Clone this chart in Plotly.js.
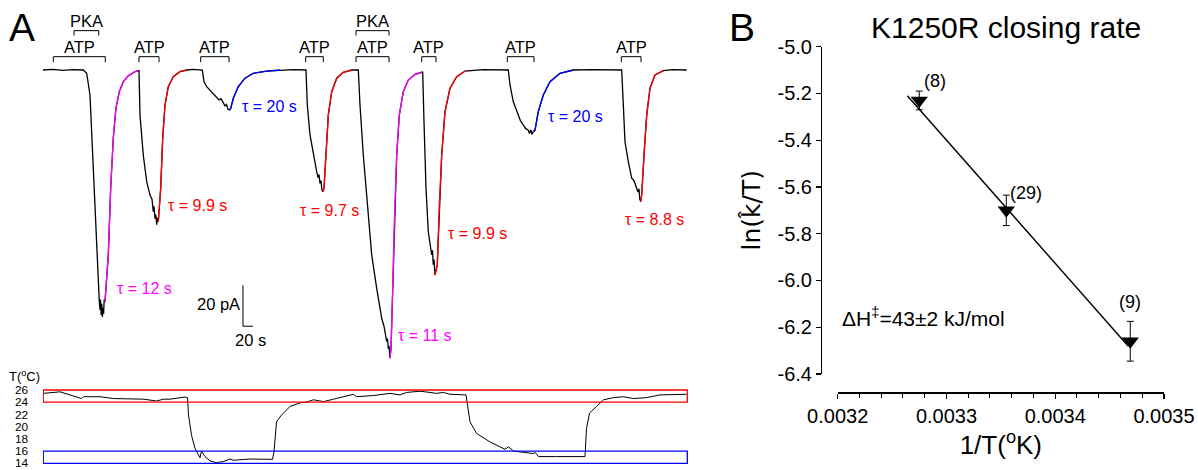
<!DOCTYPE html>
<html>
<head>
<meta charset="utf-8">
<script src="https://cdn.plot.ly/plotly-3.0.1.min.js"></script>
<style>html,body{margin:0;padding:0;background:#fff;}#chart{width:1198px;height:470px;}</style>
</head>
<body>
<div id="chart"></div>
<script>
// ---------- Panel A: current recording (time in s, current in pA) ----------
const traceT = [0,20,40,60,80.6,87.4,94,100.6,107.4,112.6,114,115,116.4,117.6,118.8,120,121.2,122.4,124,130.6,135.4,140.6,146,152.6,160.6,170.6,184,190.6,
192,194,200.6,207.4,214,218,220.6,222,224,225.5,227.4,229,230.6,235.4,239.4,244,250.6,260.6,274,287.4,300,318.6,
322,327.4,337.4,347.4,352,356,360.6,364,367,370,372.6,375.4,380.6,390.6,404,420.6,447.4,474,500,526,
528.6,534,540.6,547.4,550,552,554,556,557.5,559.4,562,566,570.6,577.4,587.4,600.6,617.4,630.6,
634,640.6,648.6,657.4,667.4,677.4,682,684,687.4,689,690.5,692,694,696,699.4,702.6,707.4,712.6,720.6,730.6,744,757.4,
759.4,762,766,770.6,774,777.4,779,780.5,782,784,788.6,792.6,797.4,804,814,827.4,844,880,930.6,
934,940.6,950.6,955,960.6,965,970.6,973,976,978,980.6,984,990.6,1000.6,1014,1034,1060.6,1100,1157.4,
1160.6,1164,1170.6,1177.4,1182,1187.4,1190,1192,1193.5,1195.4,1197.4,1202,1207.4,1214,1224,1240.6,1260,1287.4];
const traceI = [0,0.3,-0.2,0.2,0,-1.6,-12.2,-49.6,-90.2,-113,-117,-112,-119.5,-114,-120.5,-116,-119,-112,-113,-90.2,-57.6,-33.2,-18.5,-10.6,-5.7,-2.8,-0.8,-0.3,
-0.3,-22,-41.5,-54.5,-61,-63,-69.1,-66.5,-72.5,-70.5,-75.5,-72,-74,-57.7,-33.3,-17.1,-8.1,-3.3,-0.8,0,0.3,0,
-5.7,-8.1,-10.6,-13,-14.6,-14,-16.2,-17.5,-16.8,-19.2,-19.5,-18.7,-13.8,-8.1,-4,-1.6,-0.5,0,0.2,0,
-17.1,-31.7,-41.5,-49.6,-52.5,-51,-55.3,-54,-58,-59.4,-57.7,-41.5,-22,-10.6,-4,-1.1,0,0,
-17.1,-41.5,-65.9,-90.2,-106.5,-121.1,-125,-128.5,-132.5,-131,-136,-134.5,-140.6,-135.8,-106.5,-74,-41.5,-22,-10.6,-4.9,-2.1,-1.1,
-1.1,-25.2,-57.7,-78.9,-85,-90.2,-88,-95,-92.5,-100,-95.1,-65.9,-41.5,-20.3,-8.9,-3.3,-0.5,0.2,0,
-7.3,-15.5,-22,-24.8,-26.8,-28.5,-29.3,-31,-29.2,-31.5,-30.1,-29.3,-20.3,-12.2,-5.7,-1.6,0,0.2,0,
-17.1,-35,-44.7,-52.8,-54,-57.7,-59.5,-58,-63,-64.2,-61,-41.5,-22,-8.9,-2.4,-0.3,0.2,0];

// exponential-fit windows (s) and their time constants
const fitStart = [124, 230.6, 372.6, 559.4, 694, 784, 980.6, 1195.4];
const fitEnd   = [190.6, 287.4, 474, 617.4, 757.4, 844, 1060.6, 1240.6];
const tauText  = ['τ = 12 s','τ = 9.9 s','τ = 20 s','τ = 9.7 s','τ = 11 s','τ = 9.9 s','τ = 20 s','τ = 8.8 s'];

// solution applications (s)
const atpStart = [20.6, 192, 315.4, 525.4, 626, 757.4, 928.6, 1156.6];
const atpEnd   = [124.6, 232, 372, 560.6, 692, 786, 982, 1196];
const pkaStart = [62, 626];
const pkaEnd   = [111.4, 692];

// temperature recording (s, °C)
const tempT = [0.6,34,54,77,81,114,141,181,201,227,241,254,284,289,291,297,304,314,317,324,334,347,361,374,381,414,459,462,467,477,494,514,526,541,561,581,601,621,
627,661,694,714,727,754,774,787,801,814,846,849,854,867,894,924,931,941,981,984,991,1027,1084,1087,1093,1107,1121,1141,1161,1181,1207,1234,1287];
const tempC = [25.45,25.7,25.2,24.6,24.9,24.9,24.6,24.6,24.5,24.2,24.5,24.5,24.85,24.75,21.9,18.6,16.45,14.9,16.0,15.1,14.4,14.1,14.3,14.7,14.5,14.7,14.65,15.9,20.8,21.9,23.3,23.9,24.0,24.4,24.1,24.5,24.85,25.3,
24.9,25.1,25.45,25.2,25.6,25.8,25.6,25.45,25.6,25.3,25.2,23.5,20.8,18.9,17.5,16.3,16.7,16.0,15.6,15.8,15.1,15.1,15.1,19.7,22.2,23.3,24.4,24.75,24.9,24.6,24.75,25.2,25.3];
const bandLow  = [24, 14];
const bandHigh = [26, 16];
const tempTicks = [14,16,18,20,22,24,26];

// ---------- Panel B: Eyring plot ----------
const invT   = [0.003275, 0.003355, 0.003469];
const lnkT   = [-5.23, -5.70, -6.26];
const lnkErr = [0.04, 0.065, 0.085];
const nCells = ['(8)', '(29)', '(9)'];
const fitX = [0.003264, 0.003467];
const fitY = [-5.21, -6.28];
const xTicks = [0.0032, 0.0033, 0.0034, 0.0035];
const yTicks = [-5.0, -5.2, -5.4, -5.6, -5.8, -6.0, -6.2, -6.4];

// ---------- styles ----------
const FONT = 'Liberation Sans, Arial, Helvetica, sans-serif';
const FIT_COLORS = ['#ff00ff','#ff0000','#0000ff','#ff0000','#ff00ff','#ff0000','#0000ff','#ff0000'];
const tauPos = [[144,-106.5],[246,-66.2],[394,-18],[510.6,-68.3],[706,-129.3],[805.4,-79.7],[1005.4,-22.9],[1160.6,-72.8]];

const data = [];
data.push({x: traceT, y: traceI, xaxis:'x', yaxis:'y', mode:'lines', line:{color:'#000', width:1.3}, hoverinfo:'skip'});
for (let k = 0; k < fitStart.length; k++) {
  const xs = [], ys = [];
  traceT.forEach((t, i) => { if (t >= fitStart[k] && t <= fitEnd[k]) { xs.push(t); ys.push(traceI[i]); } });
  data.push({x: xs, y: ys, xaxis:'x', yaxis:'y', mode:'lines', line:{color: FIT_COLORS[k], width:1.3}, hoverinfo:'skip'});
}
data.push({x: tempT, y: tempC, xaxis:'x2', yaxis:'y2', mode:'lines', line:{color:'#000', width:1}, hoverinfo:'skip'});
data.push({x: fitX, y: fitY, xaxis:'x3', yaxis:'y3', mode:'lines', line:{color:'#000', width:1.4}, hoverinfo:'skip'});
data.push({x: invT, y: lnkT, xaxis:'x3', yaxis:'y3', mode:'markers',
  marker:{symbol:'triangle-down', size:15, color:'#000'},
  error_y:{type:'data', array: lnkErr, visible:true, color:'#000', thickness:1, width:3.5}, hoverinfo:'skip'});

const shapes = [];
const annotations = [];
function ann(o) { return Object.assign({showarrow:false, xanchor:'center', yanchor:'middle'}, o); }
// brackets
function bracket(x0, x1, yTop, yBot) {
  return {type:'path', xref:'x', yref:'y', path:`M ${x0},${yBot} L ${x0},${yTop} L ${x1},${yTop} L ${x1},${yBot}`,
    line:{color:'#000', width:1}};
}
for (let i = 0; i < atpStart.length; i++) {
  shapes.push(bracket(atpStart[i], atpEnd[i], 6.5, 3.8));
  annotations.push(ann({xref:'x', yref:'y', x:(atpStart[i]+atpEnd[i])/2, y:11.2, text:'ATP',
    font:{family:FONT, size:16.5, color:'#000'}}));
}
for (let i = 0; i < pkaStart.length; i++) {
  shapes.push(bracket(pkaStart[i], pkaEnd[i], 19.2, 16.8));
  annotations.push(ann({xref:'x', yref:'y', x:(pkaStart[i]+pkaEnd[i])/2, y:24, text:'PKA',
    font:{family:FONT, size:16.5, color:'#000'}}));
}
for (let k = 0; k < tauText.length; k++) {
  annotations.push(ann({xref:'x', yref:'y', x:tauPos[k][0], y:tauPos[k][1], xanchor:'left', text:tauText[k],
    font:{family:FONT, size:16, color:FIT_COLORS[k]}}));
}
// scale bar 20 pA / 20 s
shapes.push({type:'path', xref:'x', yref:'y', path:'M 400,-105 L 400,-125 L 420,-125', line:{color:'#000', width:1}});
annotations.push(ann({xref:'x', yref:'y', x:397, y:-114, xanchor:'right', text:'20 pA', font:{family:FONT, size:16.5, color:'#000'}}));
annotations.push(ann({xref:'x', yref:'y', x:414, y:-131.5, text:'20 s', font:{family:FONT, size:16.5, color:'#000'}}));
// temperature bands
const bandColors = ['#ff0000','#0000ff'];
for (let i = 0; i < bandLow.length; i++) {
  shapes.push({type:'rect', xref:'x2', yref:'y2', x0:0.6, x1:1288.6, y0:bandLow[i], y1:bandHigh[i],
    line:{color:bandColors[i], width:1.3}, fillcolor:'rgba(0,0,0,0)'});
}
annotations.push(ann({xref:'paper', yref:'paper', x:7/1198, y:(470-376)/470, xanchor:'left', text:'T(<sup>o</sup>C)',
  font:{family:FONT, size:13, color:'#000'}}));
// panel letters
annotations.push(ann({xref:'paper', yref:'paper', x:7/1198, y:(470-28)/470, xanchor:'left', text:'A', font:{family:FONT, size:39, color:'#000'}}));
annotations.push(ann({xref:'paper', yref:'paper', x:727/1198, y:(470-28)/470, xanchor:'left', text:'B', font:{family:FONT, size:39, color:'#000'}}));
// panel B texts
annotations.push(ann({xref:'paper', yref:'paper', x:1005.5/1198, y:(470-27)/470, text:'K1250R closing rate', font:{family:FONT, size:30, color:'#000'}}));
const nOff = [[16,-0.085],[20,-0.075],[0,-0.17]];
for (let i = 0; i < nCells.length; i++) {
  annotations.push(ann({xref:'x3', yref:'y3', x:invT[i], y:lnkT[i]-nOff[i][1], xshift:nOff[i][0], text:nCells[i],
    font:{family:FONT, size:18, color:'#000'}}));
}
annotations.push(ann({xref:'paper', yref:'paper', x:840/1198, y:(470-317)/470, xanchor:'left', text:'ΔH<sup>‡</sup>=43±2 kJ/mol',
  font:{family:FONT, size:21, color:'#000'}}));

const layout = {
  width:1198, height:470, margin:{l:0, r:0, t:0, b:0},
  paper_bgcolor:'#fff', plot_bgcolor:'rgba(0,0,0,0)', showlegend:false,
  font:{family:FONT, color:'#000'},
  xaxis:{domain:[43/1198, 688/1198], range:[0,1290], visible:false, anchor:'y', fixedrange:true},
  yaxis:{domain:[0.2128, 1], range:[-146.34, 34.15], visible:false, anchor:'x', fixedrange:true},
  xaxis2:{domain:[43/1198, 688/1198], range:[0,1290], visible:false, anchor:'y2'},
  yaxis2:{domain:[0.00906, 0.1754], range:[13.6, 26.4], anchor:'free', position:28/1198, showline:false, showgrid:false, zeroline:false,
    ticks:'', tickvals:tempTicks, ticktext:tempTicks.map(String), ticklabeloverflow:'allow',
    tickfont:{family:FONT, size:11.8, color:'#000'}},
  xaxis3:{domain:[837.7/1198, 1164/1198], range:[0.0032, 0.0035], anchor:'free', position:(470-392.3)/470,
    showline:true, linecolor:'#000', linewidth:1.2, showgrid:false, zeroline:false,
    ticks:'outside', ticklen:5, tickwidth:1.2, tickcolor:'#000', tickvals:xTicks, ticktext:xTicks.map(v=>v.toFixed(4)),
    tickfont:{family:FONT, size:20, color:'#000'},
    minor:{tick0:0.0032, dtick:0.00002, ticks:'outside', ticklen:4, tickwidth:1, tickcolor:'#000', showgrid:false},
    title:{text:'1/T(<sup>o</sup>K)', font:{family:FONT, size:26, color:'#000'}, standoff:10}},
  yaxis3:{domain:[0.2043, 0.9007], range:[-6.4, -5.0], anchor:'free', position:821/1198,
    showline:true, linecolor:'#000', linewidth:1.2, showgrid:false, zeroline:false,
    ticks:'outside', ticklen:5, tickwidth:1.2, tickcolor:'#000', tickvals:yTicks, ticktext:yTicks.map(v=>v.toFixed(1)),
    tickfont:{family:FONT, size:20, color:'#000'},
    title:{text:'ln(k\u0302/T)', font:{family:'DejaVu Sans, ' + FONT, size:25, color:'#000'}, standoff:8}},
  shapes: shapes,
  annotations: annotations
};
Plotly.newPlot('chart', data, layout, {staticPlot:true, displayModeBar:false});
</script>
</body>
</html>
